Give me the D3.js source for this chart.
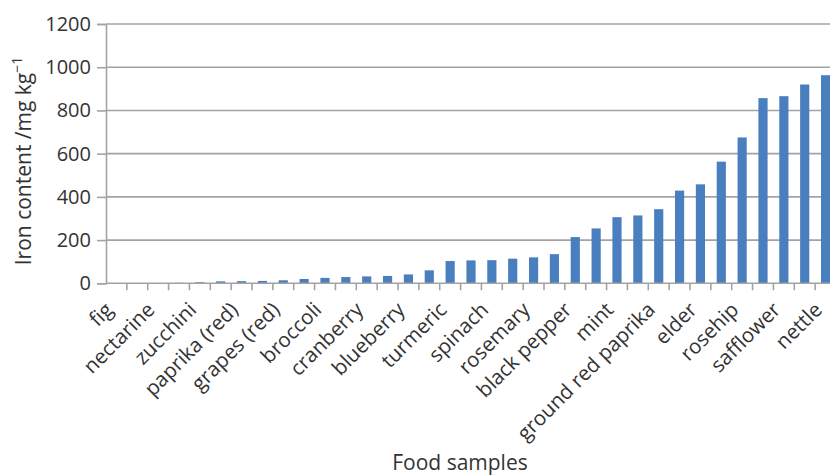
<!DOCTYPE html>
<html>
<head>
<meta charset="utf-8">
<script src="https://cdn.jsdelivr.net/npm/d3@7"></script>
<style>
  body { margin: 0; background: #fff; }
  text { font-family: "Open Sans", sans-serif; fill: #333; }
</style>
</head>
<body>
<div id="plot"></div>
<script>
// 35 samples, only every other one is labelled on the axis
var labels = ["fig", "", "nectarine", "", "zucchini", "", "paprika (red)", "", "grapes (red)", "",
              "broccoli", "", "cranberry", "", "blueberry", "", "turmeric", "", "spinach", "",
              "rosemary", "", "black pepper", "", "mint", "", "ground red paprika", "", "elder", "",
              "rosehip", "", "safflower", "", "nettle"];
var values = [1, 1, 1, 2, 5, 9, 10, 11, 14, 20,
              25, 29, 32, 34, 41, 60, 103, 106, 107, 114,
              120, 135, 214, 254, 306, 314, 343, 429, 458, 563,
              675, 857, 866, 920, 963];
var yTicks = [0, 200, 400, 600, 800, 1000, 1200];

var margin = {top: 24, left: 106},
    width = 730,
    height = 259.3;

var svg = d3.select("div#plot")
  .append("svg")
    .attr("width", 830)
    .attr("height", 476)
  .append("g")
    .attr("transform", "translate(" + margin.left + "," + margin.top + ")");

var idx = d3.range(values.length);

var x = d3.scaleBand()
  .domain(idx)
  .range([0, width])
  .paddingInner(0.56)
  .paddingOuter(0.28);

var y = d3.scaleLinear()
  .domain([0, 1200])
  .range([height, 0]);

// gridlines
svg.append("g")
  .selectAll("line")
  .data(yTicks.slice(1))
  .enter()
  .append("line")
    .attr("x1", 0)
    .attr("x2", width)
    .attr("y1", d => y(d))
    .attr("y2", d => y(d))
    .style("stroke", "#a3a3a3")
    .style("stroke-width", 1.6);

// bars
svg.selectAll("rect.bar")
  .data(values)
  .enter()
  .append("rect")
    .attr("class", "bar")
    .attr("x", (d, i) => x(i))
    .attr("width", x.bandwidth())
    .attr("y", d => y(d))
    .attr("height", d => height - y(d))
    .style("fill", "#4a7fbf");

// y axis
var yAxis = svg.append("g")
  .call(d3.axisLeft(y).tickValues(yTicks).tickFormat(d3.format("d")).tickSize(9).tickPadding(6));
yAxis.select(".domain").style("stroke", "#a3a3a3").style("stroke-width", 1.6);
yAxis.selectAll(".tick line").style("stroke", "#a3a3a3").style("stroke-width", 1.6);
yAxis.selectAll(".tick text")
  .style("font-size", "20px")
  .style("font-family", "'Open Sans', sans-serif")
  .style("fill", "#333");

// x axis line and ticks between categories
var step = x.step();
svg.append("line")
  .attr("x1", 0).attr("x2", width)
  .attr("y1", height).attr("y2", height)
  .style("stroke", "#a3a3a3").style("stroke-width", 1.6);

svg.append("g")
  .selectAll("line")
  .data(d3.range(1, values.length + 1))
  .enter()
  .append("line")
    .attr("x1", d => d * step)
    .attr("x2", d => d * step)
    .attr("y1", height)
    .attr("y2", height + 7)
    .style("stroke", "#a3a3a3")
    .style("stroke-width", 1.6);

// category labels, rotated
svg.append("g")
  .selectAll("text")
  .data(idx.filter(i => labels[i] !== ""))
  .enter()
  .append("text")
    .attr("transform", i => "translate(" + (x(i) + x.bandwidth() / 2 - 11) + "," + (height + 19) + ") rotate(-45)")
    .attr("text-anchor", "end")
    .attr("dy", "0.6em")
    .style("font-size", "20.5px")
    .text(i => labels[i]);

// axis titles
svg.append("text")
  .attr("transform", "rotate(-90)")
  .attr("x", -137)
  .attr("y", -75)
  .attr("text-anchor", "middle")
  .style("font-size", "21px")
  .html("Iron content /mg kg<tspan dy='-9' font-size='14px'>\u22121</tspan>");

svg.append("text")
  .attr("x", 354)
  .attr("y", 446)
  .attr("text-anchor", "middle")
  .style("font-size", "21px")
  .text("Food samples");
</script>
</body>
</html>
